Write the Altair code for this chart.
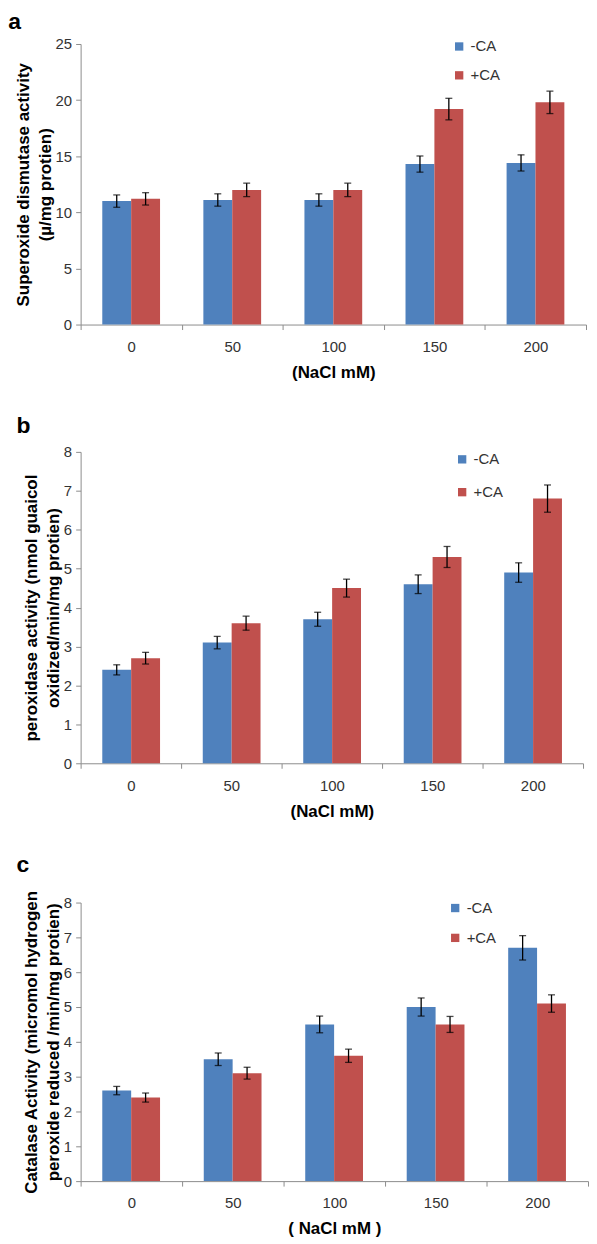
import altair as alt
import pandas as pd

nacl = ["0", "50", "100", "150", "200"]
treatments = ["-CA", "+CA"]
colors = ["#4F81BD", "#C0504D"]

# Panel a: superoxide dismutase
sod_minus = [11.0, 11.1, 11.1, 14.3, 14.4]
sod_plus = [11.2, 12.0, 12.0, 19.2, 19.8]
sod_err_minus = [0.55, 0.55, 0.55, 0.72, 0.72]
sod_err_plus = [0.55, 0.6, 0.6, 0.96, 1.0]

# Panel b: peroxidase
pod_minus = [2.4, 3.1, 3.7, 4.6, 4.9]
pod_plus = [2.7, 3.6, 4.5, 5.3, 6.8]
pod_err_minus = [0.13, 0.16, 0.18, 0.24, 0.25]
pod_err_plus = [0.15, 0.18, 0.23, 0.27, 0.35]

# Panel c: catalase
cat_minus = [2.6, 3.5, 4.5, 5.0, 6.7]
cat_plus = [2.4, 3.1, 3.6, 4.5, 5.1]
cat_err_minus = [0.12, 0.18, 0.24, 0.26, 0.35]
cat_err_plus = [0.13, 0.17, 0.19, 0.23, 0.25]

FONT = "Liberation Sans"


def make_df(minus, plus, em, ep):
    rows = []
    for i, n in enumerate(nacl):
        rows.append({"nacl": n, "trt": "-CA", "v": minus[i], "lo": minus[i] - em[i], "hi": minus[i] + em[i]})
        rows.append({"nacl": n, "trt": "+CA", "v": plus[i], "lo": plus[i] - ep[i], "hi": plus[i] + ep[i]})
    return pd.DataFrame(rows)


def panel(letter, df, ytitle, ymax, ystep, xtitle, width, height,
          legx, legy, legpad, toff):
    xaxis = alt.Axis(labelAngle=0, tickBand="extent", tickSize=5,
                     labelPadding=10, titlePadding=10)
    xscale = alt.Scale(paddingInner=0, paddingOuter=0)
    xenc = alt.X("nacl:N", sort=nacl, title=xtitle, scale=xscale, axis=xaxis)
    xoff = alt.XOffset("trt:N", sort=treatments,
                       scale=alt.Scale(paddingOuter=0.75, paddingInner=0))
    yscale = alt.Scale(domain=[0, ymax], nice=False)
    ticks = list(range(0, ymax + 1, ystep))
    yaxis = alt.Axis(values=ticks, grid=False, tickSize=5, labelPadding=4,
                     titlePadding=1, labelOverlap=False)
    bars = alt.Chart(df).mark_bar().encode(
        x=xenc,
        xOffset=xoff,
        y=alt.Y("v:Q", scale=yscale, title=ytitle, axis=yaxis),
        color=alt.Color("trt:N", sort=treatments,
                        scale=alt.Scale(domain=treatments, range=colors),
                        legend=alt.Legend(title=None, orient="none", legendX=legx,
                                          legendY=legy, symbolType="square",
                                          symbolSize=70, symbolStrokeWidth=0,
                                          rowPadding=legpad, labelFontSize=15,
                                          labelOffset=4, labelFont=FONT,
                                          labelColor="#333333", padding=0)),
    )
    rules = alt.Chart(df).mark_rule(color="black", strokeWidth=1.3).encode(
        x=xenc, xOffset=xoff,
        y=alt.Y("lo:Q", scale=yscale, title=ytitle, axis=yaxis), y2="hi:Q")
    cap_lo = alt.Chart(df).mark_tick(color="black", size=7, thickness=1.3).encode(
        x=xenc, xOffset=xoff, y=alt.Y("lo:Q", scale=yscale, title=ytitle, axis=yaxis))
    cap_hi = alt.Chart(df).mark_tick(color="black", size=7, thickness=1.3).encode(
        x=xenc, xOffset=xoff, y=alt.Y("hi:Q", scale=yscale, title=ytitle, axis=yaxis))
    return alt.layer(bars, rules, cap_lo, cap_hi).properties(
        width=width, height=height,
        title=alt.TitleParams(text=letter, anchor="start", frame="bounds",
                              fontSize=23, fontWeight="bold", font=FONT,
                              color="black", offset=toff, dx=-6),
    )


pa = panel("a", make_df(sod_minus, sod_plus, sod_err_minus, sod_err_plus),
           ["Superoxide dismutase activity", "(\u00b5/mg protien)"], 25, 5,
           "(NaCl mM)", 508, 282, 373, -5, 13, 3)
pb = panel("b", make_df(pod_minus, pod_plus, pod_err_minus, pod_err_plus),
           ["peroxidase activity (nmol guaicol", "oxidized/min/mg protien)"], 8, 1,
           "(NaCl mM)", 505, 313, 376, 0, 17, 7)
pc = panel("c", make_df(cat_minus, cat_plus, cat_err_minus, cat_err_plus),
           ["Catalase Activity (micromol hydrogen", "peroxide reduced /min/mg protien)"], 8, 1,
           "( NaCl mM )", 510, 280, 369, -2, 14, 13)

chart = alt.vconcat(pa, pb, pc, spacing=35, padding=0, background="white").resolve_scale(
    color="independent", y="independent"
).resolve_legend(color="independent").configure_view(stroke=None).configure_axis(
    labelFont=FONT, labelFontSize=15, labelColor="#333333",
    titleFont=FONT, titleFontSize=17, titleFontWeight="bold", titleColor="black",
    titleLineHeight=22,
    domainColor="#8c8c8c", tickColor="#8c8c8c",
)

chart.save("out.html", embed_options={"renderer": "svg", "actions": False})
